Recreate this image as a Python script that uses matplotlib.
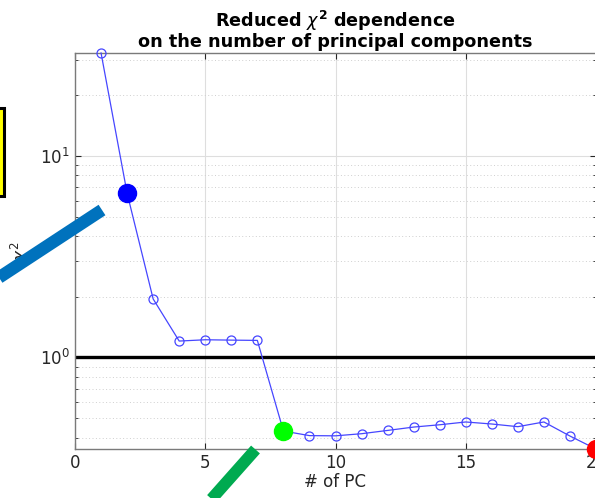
import matplotlib
matplotlib.use("Agg")
import matplotlib.pyplot as plt
from matplotlib.lines import Line2D
from matplotlib.patches import Rectangle
from matplotlib.ticker import LogLocator, NullFormatter

# reduced chi^2 vs number of principal components
n_pc = list(range(1, 21))
chi2 = [32.4, 6.53, 1.95, 1.205, 1.223, 1.218, 1.214, 0.431, 0.409, 0.408,
        0.418, 0.434, 0.451, 0.463, 0.478, 0.467, 0.453, 0.478, 0.407, 0.351]
highlight = {2: "#0000ff", 8: "#00ff00", 20: "#ff0000"}
x_ticks = [0, 5, 10, 15, 20]

W, H = 595, 498
fig = plt.figure(figsize=(W / 100, H / 100), dpi=100)
ax = fig.add_axes([75 / W, 49 / H, 521 / W, 396 / H])

ax.set_yscale("log")
ax.set_xlim(0, 20)
ax.set_ylim(min(chi2), max(chi2))

ax.plot(n_pc, chi2, "-o", color="#4646ff", lw=0.9, ms=6.5, mfc="none",
        mew=0.9, clip_on=False, zorder=3)
for k, col in highlight.items():
    ax.plot(n_pc[k - 1], chi2[k - 1], "o", color=col, ms=13, clip_on=False, zorder=4)
ax.axhline(1.0, color="black", lw=2.4, zorder=2)

ax.set_xticks(x_ticks)
ax.yaxis.set_major_locator(LogLocator(base=10, numticks=10))
ax.yaxis.set_minor_locator(LogLocator(base=10, subs=range(2, 10), numticks=20))
ax.yaxis.set_minor_formatter(NullFormatter())
ax.grid(True, which="major", color="#dedede", lw=0.8, ls="-")
ax.grid(True, which="minor", axis="y", color="#cfcfcf", lw=0.7, ls=(0, (1, 2.5)))
ax.set_axisbelow(True)
ax.tick_params(which="both", direction="in", top=True, right=True, colors="#262626",
               labelsize=12, length=4)
ax.tick_params(which="minor", length=2)
for s in ax.spines.values():
    s.set_color("#7a7a7a")
    s.set_linewidth(1.0)

ax.set_title("Reduced $\\chi^{\\mathbf{2}}$ dependence\non the number of principal components",
             fontsize=12.7, fontweight="bold", pad=4, linespacing=1.0)
ax.set_xlabel("# of PC", fontsize=12, color="#262626", labelpad=1)
ax.set_ylabel("$\\chi^2$", fontsize=12, color="#262626")
ax.yaxis.set_label_coords(-0.08, 0.50)

# annotation shapes around the axes (figure pixels)
def fx(px):
    return px / W

def fy(py):
    return 1 - py / H

fig.add_artist(Rectangle((fx(-10), fy(196)), fx(14), 88 / H, transform=fig.transFigure,
                         facecolor="#ffff00", edgecolor="black", lw=2.2))
fig.add_artist(Line2D([fx(-20), fx(102)], [fy(290), fy(210)], transform=fig.transFigure,
                      color="#0072bd", lw=9, solid_capstyle="butt"))
fig.add_artist(Line2D([fx(255.5), fx(200)], [fy(449.5), fy(512)], transform=fig.transFigure,
                      color="#00aa50", lw=8.5, solid_capstyle="butt"))

fig.savefig("out.png", dpi=100)
